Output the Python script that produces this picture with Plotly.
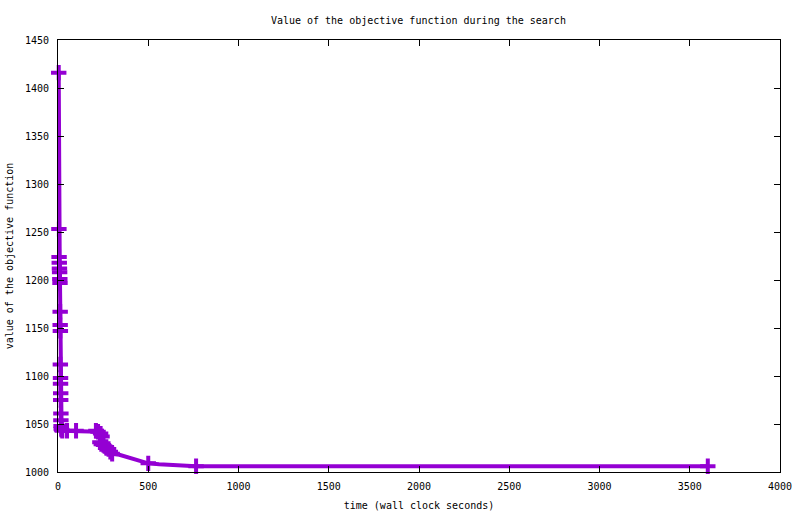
import plotly.graph_objects as go

# search trace: wall clock seconds vs objective value (every logged point)
time_s = [4, 5, 6, 7, 8, 9, 10, 11, 12, 12, 13, 13, 14, 14, 15, 15, 16, 16, 17, 18,
          20, 24, 50, 100, 210, 222, 236, 244, 232, 240, 252, 268, 280, 290, 300,
          340, 390, 440, 500, 560, 640, 700, 765, 3600]
objective = [1416, 1253, 1224, 1218, 1212, 1208, 1201, 1197, 1167, 1153, 1147, 1112,
             1098, 1092, 1082, 1075, 1061, 1054, 1048, 1045, 1044, 1043, 1043, 1043,
             1043, 1042, 1040, 1037, 1031, 1029, 1028, 1026, 1024, 1021, 1019, 1018,
             1015.5, 1012, 1009, 1008, 1007, 1007, 1006, 1006]
# points that carry a visible marker
marked = [True] * 35 + [False, False, False, True, False, False, False, True, True]

x_ticks = [0, 500, 1000, 1500, 2000, 2500, 3000, 3500, 4000]
y_ticks = [1000, 1050, 1100, 1150, 1200, 1250, 1300, 1350, 1400, 1450]

purple = "#9400D3"
font = dict(family="DejaVu Sans Mono", size=10, color="black")

fig = go.Figure()
fig.add_trace(go.Scatter(
    x=time_s, y=objective, mode="lines",
    line=dict(color=purple, width=4),
    cliponaxis=False, showlegend=False, hoverinfo="x+y"))
fig.add_trace(go.Scatter(
    x=[t for t, m in zip(time_s, marked) if m],
    y=[v for v, m in zip(objective, marked) if m],
    mode="markers",
    marker=dict(symbol="cross-thin", size=11, color=purple,
                line=dict(color=purple, width=4)),
    cliponaxis=False, showlegend=False, hoverinfo="x+y"))

axis_common = dict(showgrid=False, zeroline=False, showline=True, linecolor="black",
                   linewidth=1, mirror="ticks", ticks="inside", ticklen=6,
                   tickcolor="black", tickfont=font, automargin=False)

fig.update_layout(
    width=800, height=514,
    paper_bgcolor="white", plot_bgcolor="white",
    margin=dict(l=58, r=20, t=40, b=42),
    font=font,
    title=dict(text="Value of the objective function during the search",
               x=0.523, xanchor="center", y=0.96, yanchor="middle",
               font=font),
    xaxis=dict(range=[0, 4000], tickvals=x_ticks, ticklabelstandoff=5,
               title=dict(text="time (wall clock seconds)", standoff=10, font=font),
               **axis_common),
    yaxis=dict(range=[1000, 1450], tickvals=y_ticks, ticklabelstandoff=6,
               title=dict(text="value of the objective function", standoff=9, font=font),
               **axis_common),
)

fig.write_html("out.html", config={"displayModeBar": False},
               post_script="document.body.style.margin='0';")
